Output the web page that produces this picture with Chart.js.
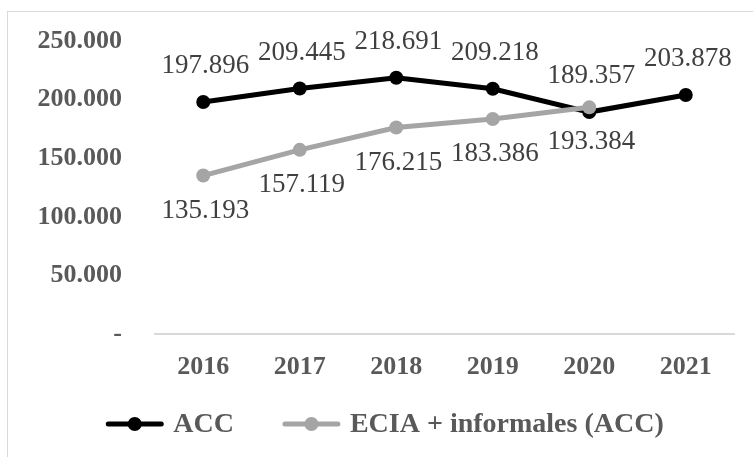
<!DOCTYPE html>
<html>
<head>
<meta charset="utf-8">
<script src="https://cdn.jsdelivr.net/npm/chart.js@4"></script>
<style>
  html, body { margin: 0; padding: 0; background: #fff; overflow: hidden; }
  #frame { position: absolute; left: 7px; top: 11px; width: 800px; height: 500px; border: 1px solid #d9d9d9; }
  #wrap { position: absolute; left: 0; top: 0; width: 753px; height: 457px; }
</style>
</head>
<body>
<div id="frame"></div>
<div id="wrap"><canvas id="chart" width="753" height="457"></canvas></div>
<script>
const years = ['2016', '2017', '2018', '2019', '2020', '2021'];
const accValues = [197896, 209445, 218691, 209218, 189357, 203878];
const eciaValues = [135193, 157119, 176215, 183386, 193384, null];
const yTicks = [0, 50000, 100000, 150000, 200000, 250000];
const seriesNames = ['ACC', 'ECIA + informales (ACC)'];

const serif = '"Liberation Serif", "Times New Roman", serif';

// 250000 -> "250.000", 0 -> "-"
function fmt(v) {
    if (v === 0) return '-';
    return String(v).replace(/\B(?=(\d{3})+(?!\d))/g, '.');
}

// value labels: ACC above the point, ECIA below
const valueLabels = {
    id: 'valueLabels',
    afterDatasetsDraw(chart) {
        const ctx = chart.ctx;
        const offsets = [-36, 35];
        ctx.save();
        ctx.font = '27px ' + serif;
        ctx.fillStyle = '#404040';
        ctx.textAlign = 'center';
        ctx.textBaseline = 'middle';
        chart.data.datasets.forEach((ds, i) => {
            const meta = chart.getDatasetMeta(i);
            meta.data.forEach((pt, j) => {
                const v = ds.data[j];
                if (v == null) return;
                ctx.fillText(fmt(v), pt.x + 2, pt.y + offsets[i]);
            });
        });
        ctx.restore();
    }
};

// legend at the bottom: line with a dot, then the name
const bottomLegend = {
    id: 'bottomLegend',
    afterDraw(chart) {
        const ctx = chart.ctx;
        const y = 424, lineLen = 57, gapText = 10, gapItem = 49;
        ctx.save();
        ctx.font = 'bold 28px ' + serif;
        const items = chart.data.datasets.map(ds => ({ ds, w: ctx.measureText(ds.label).width }));
        const total = items.reduce((s, it) => s + lineLen + gapText + it.w, 0) + gapItem * (items.length - 1);
        let x = 385 - total / 2;
        items.forEach(it => {
            ctx.strokeStyle = it.ds.borderColor;
            ctx.lineWidth = 5;
            ctx.lineCap = 'round';
            ctx.beginPath();
            ctx.moveTo(x + 2, y);
            ctx.lineTo(x + lineLen - 2, y);
            ctx.stroke();
            ctx.fillStyle = it.ds.borderColor;
            ctx.beginPath();
            ctx.arc(x + lineLen / 2, y, 7, 0, Math.PI * 2);
            ctx.fill();
            ctx.fillStyle = '#595959';
            ctx.textAlign = 'left';
            ctx.textBaseline = 'middle';
            ctx.fillText(it.ds.label, x + lineLen + gapText, y + 1);
            x += lineLen + gapText + it.w + gapItem;
        });
        ctx.restore();
    }
};

const data = {
    labels: years,
    datasets: [{
        label: seriesNames[0],
        data: accValues,
        borderColor: '#000000',
        backgroundColor: '#000000',
        order: 1
    }, {
        label: seriesNames[1],
        data: eciaValues,
        borderColor: '#a5a5a5',
        backgroundColor: '#a5a5a5',
        order: 0
    }]
};

const config = {
    type: 'line',
    data: data,
    options: {
        responsive: false,
        animation: false,
        layout: {
            padding: { left: 0, right: 19, top: 41, bottom: 63 }
        },
        elements: {
            line: { borderWidth: 5, tension: 0 },
            point: { radius: 7, borderWidth: 0, hoverRadius: 7 }
        },
        plugins: {
            legend: { display: false },
            tooltip: { enabled: false }
        },
        scales: {
            x: {
                offset: true,
                grid: { display: false, drawTicks: false },
                border: { display: true, color: '#d9d9d9', width: 2 },
                ticks: {
                    padding: 18,
                    color: '#595959',
                    font: { family: serif, size: 26, weight: 'bold' }
                },
                afterFit(scale) { scale.height = 60; }
            },
            y: {
                min: 0,
                max: 250000,
                // hidden tick marks only used as the gap between labels and plot
                grid: { display: false, drawTicks: true, tickLength: 33 },
                border: { display: false },
                afterBuildTicks(scale) {
                    scale.ticks = yTicks.map(v => ({ value: v }));
                },
                ticks: {
                    padding: 0,
                    color: '#595959',
                    font: { family: serif, size: 26, weight: 'bold' },
                    callback: v => fmt(v)
                },
                afterFit(scale) { scale.width = 155; }
            }
        }
    },
    plugins: [valueLabels, bottomLegend]
};

const myChart = new Chart(
    document.getElementById('chart'),
    config,
);
</script>
</body>
</html>
